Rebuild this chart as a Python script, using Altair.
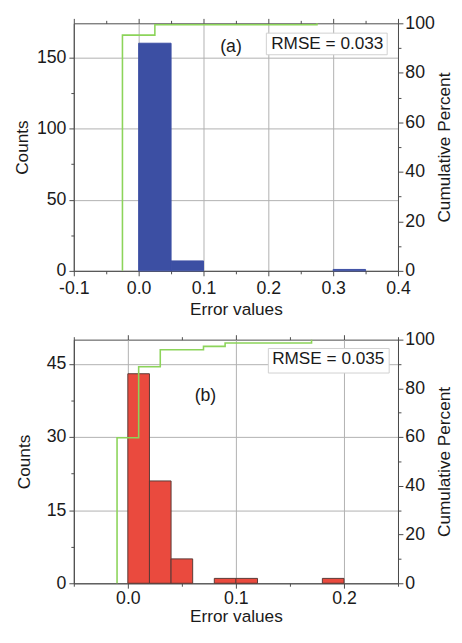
import altair as alt
import pandas as pd

# ---------------- data ----------------
# Panel (a)
a_lo = [0.00, 0.05, 0.30]
a_hi = [0.05, 0.10, 0.35]
a_counts = [160, 7, 1]
a_xticks = [-0.1, 0.0, 0.1, 0.2, 0.3, 0.4]
a_xminor = [-0.05, 0.05, 0.15, 0.25, 0.35]
a_yticks = [0, 50, 100, 150]
a_yminor = [25, 75, 125]
a_ymax = 174
a_xdom = [-0.1, 0.4]

# Panel (b)
b_lo = [0.00, 0.02, 0.04, 0.08, 0.10, 0.18]
b_hi = [0.02, 0.04, 0.06, 0.10, 0.12, 0.20]
b_counts = [43, 21, 5, 1, 1, 1]
b_xticks = [0.0, 0.1, 0.2]
b_xminor = [-0.05, 0.05, 0.15, 0.25]
b_yticks = [0, 15, 30, 45]
b_yminor = [7.5, 22.5, 37.5]
b_ymax = 50
b_xdom = [-0.05, 0.25]

pct_ticks = [0, 20, 40, 60, 80, 100]
pct_minor = [10, 30, 50, 70, 90]

FONT = "Liberation Sans"
AX = "#4a4a4a"
GRID = "#b0b0b0"
GREEN = "#8cd45a"
TXT = "#1a1a1a"

XLABEL = "(datum.value < 0 ? '-' : '') + format(abs(datum.value), '.1f')"


def panel(lo, hi, counts, xdom, xticks, xminor, ymax, yticks, yminor,
          fill, stroke, tag, tag_xy, rmse, box, text_xy, w, h,
          ytitle_off, xlab_pad, xtitle_pad):
    bars = pd.DataFrame({"lo": lo, "hi": hi, "count": counts,
                         "zero": [0] * len(lo)})
    total = float(sum(counts))
    cum = []
    run = 0
    for c in counts:
        run += c
        cum.append(run / total * 100)
    step_x = [l - (hh - l) / 2 for l, hh in zip(lo, hi)]
    lx = [step_x[0]] + step_x
    ly = [0] + cum
    line_df = pd.DataFrame({"x": lx, "pct": ly, "k": list(range(len(lx)))})

    xs = alt.Scale(domain=xdom, nice=False, zero=False)
    ys = alt.Scale(domain=[0, ymax], nice=False, zero=False)
    ps = alt.Scale(domain=[0, 100], nice=False, zero=False)

    base = alt.Chart(bars)

    bar_layer = base.mark_rect(fill=fill, stroke=stroke, strokeWidth=1).encode(
        x=alt.X("lo:Q", scale=xs,
                axis=alt.Axis(values=xticks, labelExpr=XLABEL, title="Error values",
                              grid=True, tickSize=5, labelPadding=xlab_pad,
                              titlePadding=xtitle_pad)),
        x2="hi:Q",
        y=alt.Y("count:Q", scale=ys,
                axis=alt.Axis(values=yticks, format="d", title="Counts",
                              grid=True, tickSize=5, labelPadding=3,
                              titlePadding=ytitle_off)),
        y2="zero:Q",
    )

    def ghost_x(values, orient, size):
        return base.mark_point(opacity=0).encode(
            x=alt.X("lo:Q", scale=xs,
                    axis=alt.Axis(values=values, orient=orient, labels=False,
                                  tickSize=size, grid=False, domain=False,
                                  title=None)),
            y=alt.Y("count:Q", scale=ys, axis=None),
        )

    def ghost_y(values, size):
        return base.mark_point(opacity=0).encode(
            x=alt.X("lo:Q", scale=xs, axis=None),
            y=alt.Y("count:Q", scale=ys,
                    axis=alt.Axis(values=values, orient="left", labels=False,
                                  tickSize=size, grid=False, domain=False,
                                  title=None)),
        )

    minor_bottom = ghost_x(xminor, "bottom", 3)
    top_major = ghost_x(xticks, "top", 5)
    top_minor = ghost_x(xminor, "top", 3)
    left_minor = ghost_y(yminor, 3)

    line = alt.Chart(line_df).mark_line(
        color=GREEN, strokeWidth=1.6, interpolate="step-after").encode(
        x=alt.X("x:Q", scale=xs, axis=None),
        y=alt.Y("pct:Q", scale=ps,
                axis=alt.Axis(values=pct_ticks, orient="right", format="d",
                              title="Cumulative Percent", grid=False,
                              titleAngle=270, titleBaseline="top",
                              tickSize=5, labelPadding=2, titlePadding=1)),
        order="k:Q",
    )
    right_minor = alt.Chart(line_df).mark_point(opacity=0).encode(
        x=alt.X("x:Q", scale=xs, axis=None),
        y=alt.Y("pct:Q", scale=ps,
                axis=alt.Axis(values=pct_minor, orient="right", labels=False,
                              tickSize=3, grid=False, domain=False, title=None)),
    )

    one = alt.Chart(pd.DataFrame({"t": [rmse]}))
    box_layer = one.mark_rect(fill="white", stroke="#d0d0d0", strokeWidth=1).encode(
        x=alt.value(box[0]), x2=alt.value(box[1]),
        y=alt.value(box[2]), y2=alt.value(box[3]))
    rmse_text = one.mark_text(font=FONT, fontSize=17.5, color=TXT,
                              align="center", baseline="middle").encode(
        x=alt.value(text_xy[0]), y=alt.value(text_xy[1]), text="t:N")
    tag_text = alt.Chart(pd.DataFrame({"t": [tag]})).mark_text(
        font=FONT, fontSize=18, color=TXT, align="center",
        baseline="middle").encode(
        x=alt.value(tag_xy[0]), y=alt.value(tag_xy[1]), text="t:N")

    return alt.layer(
        bar_layer, minor_bottom, top_major, top_minor, left_minor,
        line, right_minor, box_layer, rmse_text, tag_text,
    ).resolve_scale(x="independent", y="independent").resolve_axis(
        x="independent", y="independent").properties(width=w, height=h)


top = panel(a_lo, a_hi, a_counts, a_xdom, a_xticks, a_xminor, a_ymax,
            a_yticks, a_yminor, "#3c4fa3", "#3c4fa3", "(a)", (160, 24),
            "RMSE = 0.033", (196, 319, 10, 32), (258, 21), 330, 252,
            5, 4, 3)
bottom = panel(b_lo, b_hi, b_counts, b_xdom, b_xticks, b_xminor, b_ymax,
               b_yticks, b_yminor, "#ea4a3e", "#5a3a36", "(b)", (134, 57),
               "RMSE = 0.035", (198, 321, 9, 34), (259, 20), 330, 248,
               13, 1.5, 0.5)

chart = alt.vconcat(top, bottom, spacing=12).properties(
    padding={"left": 5, "top": 0, "right": 0, "bottom": 0}
).configure_view(stroke=AX, strokeWidth=1).configure_axis(
    labelFont=FONT, titleFont=FONT, labelFontSize=18, titleFontSize=17.5,
    labelColor=TXT, titleColor=TXT, titleFontWeight="normal",
    domainColor=AX, tickColor=AX, gridColor=GRID, gridWidth=1,
    labelFlush=False, labelOverlap=False,
).configure_concat(spacing=12)

chart.save("out.html", embed_options={"renderer": "svg", "actions": False})
